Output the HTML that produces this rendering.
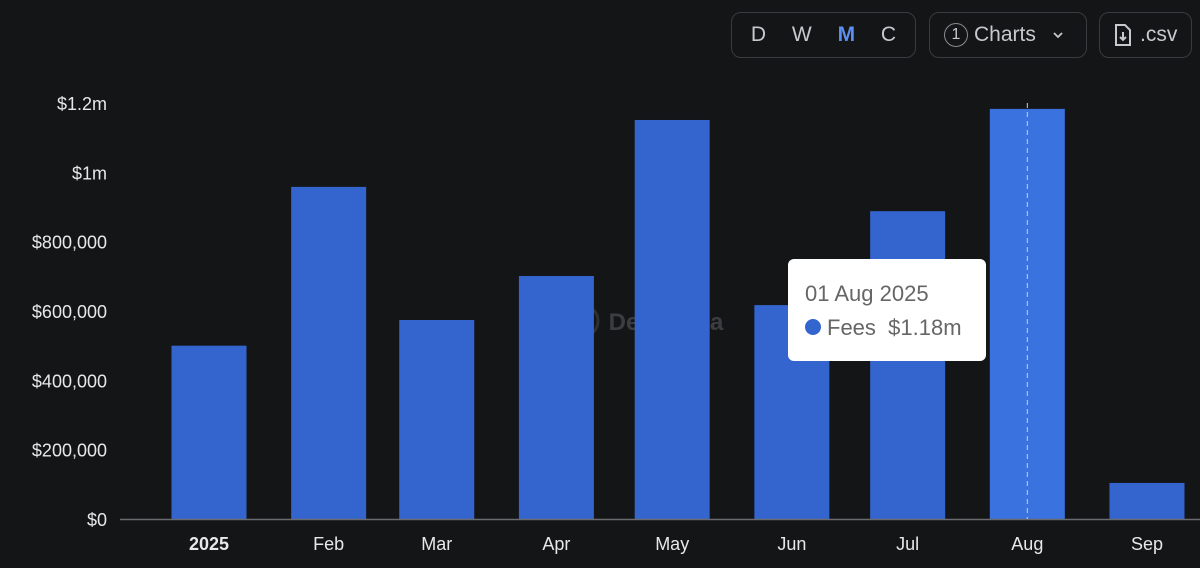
<!DOCTYPE html>
<html><head><meta charset="utf-8"><style>
html,body{margin:0;padding:0;background:#141517;width:1200px;height:568px;overflow:hidden;font-family:"Liberation Sans",sans-serif;}
.btn{position:absolute;top:12px;height:46px;border:1px solid #3a3b3e;border-radius:10px;box-sizing:border-box;color:#c8c9cc;font-size:21px;display:flex;align-items:center;}
</style></head><body>
<div class="btn" style="left:731px;width:185px;justify-content:space-around;padding:0 6px">
<span>D</span><span>W</span><span style="color:#5b8ff0;font-weight:bold">M</span><span>C</span></div>
<div class="btn" style="left:929px;width:158px;padding-left:14px">
<span style="display:inline-block;width:22px;height:22px;border:1px solid #8a8b8e;border-radius:50%;font-size:16px;text-align:center;line-height:22px;margin-right:6px">1</span>Charts<svg width="12" height="8" viewBox="0 0 12 8" style="margin-left:16px"><path d="M2 2l4 4 4-4" fill="none" stroke="#c8c9cc" stroke-width="1.8"/></svg></div>
<div class="btn" style="left:1099px;width:93px;padding-left:14px">
<svg width="18" height="22" viewBox="0 0 18 22" style="margin-right:8px"><path d="M2 1h9l5 5v15H2z" fill="none" stroke="#c8c9cc" stroke-width="2"/><path d="M9 8v8M6 13l3 3 3-3" fill="none" stroke="#c8c9cc" stroke-width="2"/></svg>.csv</div>
<svg id="chart" width="1200" height="568" style="position:absolute;left:0;top:0"></svg>
<div style="position:absolute;left:788px;top:259px;width:198px;height:102px;background:#fff;border-radius:6px;box-sizing:border-box;padding:22px 0 0 17px;color:#666;font-size:22px">
<div>01 Aug 2025</div>
<div style="margin-top:8px"><span style="display:inline-block;width:16px;height:16px;border-radius:50%;background:#3465cf;margin-right:6px"></span>Fees&nbsp; $1.18m</div></div>
<script>
const categories=["2025","Feb","Mar","Apr","May","Jun","Jul","Aug","Sep"];
const dayOffsets=[0,31,59,90,120,151,181,212,243];
const fees=[500000,958000,574000,701000,1151000,617000,888000,1183000,104000];
const yTicks=[0,200000,400000,600000,800000,1000000,1200000];
const yTickLabels=["$0","$200,000","$400,000","$600,000","$800,000","$1m","$1.2m"];
const highlighted=7;
const svg=document.getElementById('chart');
const NS='http://www.w3.org/2000/svg';
const y=v=>519-v*416/1200000;
const x=d=>209+d*3.86;
function mk(t,a){const e=document.createElementNS(NS,t);for(const k in a)e.setAttribute(k,a[k]);svg.appendChild(e);return e;}
yTicks.forEach((t,i)=>{const e=mk('text',{x:107,y:y(t)+7,'text-anchor':'end',fill:'#e8e8ea','font-size':18});e.textContent=yTickLabels[i];

});
const wc=mk('circle',{cx:582,cy:321,r:16,fill:'none',stroke:'#2e2f32','stroke-width':3});


const wm=mk('text',{x:666,y:330,'text-anchor':'middle',fill:'#3c3d40','font-size':24,'font-weight':'bold'});wm.textContent='DefiLlama';


fees.forEach((v,i)=>{const r=mk('rect',{x:x(dayOffsets[i])-37.5,y:y(v),width:75,height:519-y(v),fill:i===highlighted?'#3a72e0':'#3465cf'});


const t=mk('text',{x:x(dayOffsets[i]),y:550,'text-anchor':'middle',fill:'#e8e8ea','font-size':18,'font-weight':i===0?'bold':'normal'});t.textContent=categories[i];

});
const ax=mk('line',{x1:120,x2:1200,y1:519.5,y2:519.5,stroke:'#6a6b6e','stroke-width':1.5});


const cx=x(dayOffsets[highlighted]);
const cl=mk('line',{x1:cx,x2:cx,y1:103,y2:519,stroke:'#cfd0d3','stroke-width':1,'stroke-dasharray':'5,4'});


</script>
</body></html>
